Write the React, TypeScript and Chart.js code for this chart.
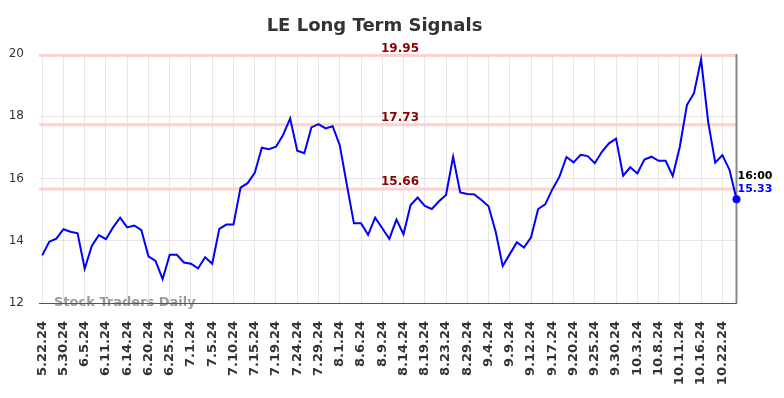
import React, { useEffect, useRef } from 'react';
import { Chart, registerables } from 'chart.js';

Chart.register(...registerables);

const TITLE = 'LE Long Term Signals';
const WATERMARK = 'Stock Traders Daily';
const LAST_TIME = '16:00';

const tickLabels = [
  '5.22.24', '5.30.24', '6.5.24', '6.11.24', '6.14.24', '6.20.24', '6.25.24', '7.1.24',
  '7.5.24', '7.10.24', '7.15.24', '7.19.24', '7.24.24', '7.29.24', '8.1.24', '8.6.24',
  '8.9.24', '8.14.24', '8.19.24', '8.23.24', '8.29.24', '9.4.24', '9.9.24', '9.12.24',
  '9.17.24', '9.20.24', '9.25.24', '9.30.24', '10.3.24', '10.8.24', '10.11.24', '10.16.24',
  '10.22.24',
];
const POINTS_PER_TICK = 3;

const values = [
  13.53, 13.97, 14.07, 14.37, 14.29, 14.24, 13.10, 13.83, 14.18, 14.05,
  14.43, 14.74, 14.43, 14.49, 14.34, 13.50, 13.35, 12.77, 13.55, 13.55,
  13.30, 13.26, 13.11, 13.47, 13.26, 14.38, 14.52, 14.52, 15.71, 15.85,
  16.18, 16.99, 16.94, 17.02, 17.40, 17.93, 16.89, 16.81, 17.64, 17.75,
  17.61, 17.68, 17.07, 15.80, 14.56, 14.56, 14.19, 14.74, 14.40, 14.06,
  14.68, 14.21, 15.15, 15.39, 15.12, 15.02, 15.27, 15.47, 16.70, 15.55,
  15.50, 15.49, 15.31, 15.11, 14.30, 13.19, 13.57, 13.95, 13.78, 14.11,
  15.02, 15.17, 15.65, 16.05, 16.69, 16.52, 16.76, 16.72, 16.49, 16.86,
  17.13, 17.28, 16.09, 16.36, 16.16, 16.61, 16.70, 16.57, 16.57, 16.08,
  17.02, 18.36, 18.74, 19.83, 17.82, 16.51, 16.75, 16.29, 15.33,
];

const signalLevels = [19.95, 17.73, 15.66];
const Y_MIN = 12;
const Y_MAX = 20;
const Y_STEP = 2;

const FONT = '"DejaVu Sans", sans-serif';

export default function App() {
  const ref = useRef<HTMLCanvasElement>(null);

  useEffect(() => {
    const canvas = ref.current;
    if (!canvas) return;
    const lastIdx = values.length - 1;

    const overlay = {
      id: 'overlay',
      beforeDraw(chart: any) {
        const { ctx, chartArea } = chart;
        ctx.save();
        ctx.font = `bold 18px ${FONT}`;
        ctx.fillStyle = '#333333';
        ctx.textAlign = 'center';
        ctx.textBaseline = 'middle';
        ctx.fillText(TITLE, 374.5, 26);
        ctx.font = `bold 13px ${FONT}`;
        ctx.fillStyle = '#9a9a9a';
        ctx.textAlign = 'left';
        ctx.textBaseline = 'alphabetic';
        ctx.fillText(WATERMARK, chartArea.left + 15, chartArea.bottom + 3);
        ctx.restore();
      },
      beforeDatasetsDraw(chart: any) {
        const { ctx, chartArea, scales } = chart;
        ctx.save();
        signalLevels.forEach((lvl) => {
          const py = scales.y.getPixelForValue(lvl);
          ctx.strokeStyle = '#ffd0d0';
          ctx.lineWidth = 3;
          ctx.beginPath();
          ctx.moveTo(chartArea.left, py);
          ctx.lineTo(chartArea.right, py);
          ctx.stroke();
          ctx.fillStyle = '#8b0000';
          ctx.font = `bold 12px ${FONT}`;
          ctx.textAlign = 'center';
          ctx.textBaseline = 'alphabetic';
          ctx.fillText(lvl.toFixed(2), 400, py - 4);
        });
        const px = scales.x.getPixelForValue(lastIdx);
        ctx.strokeStyle = '#888888';
        ctx.lineWidth = 2;
        ctx.beginPath();
        ctx.moveTo(px, chartArea.top);
        ctx.lineTo(px, chartArea.bottom);
        ctx.stroke();
        ctx.restore();
      },
      afterDatasetsDraw(chart: any) {
        const { ctx, scales } = chart;
        const px = scales.x.getPixelForValue(lastIdx);
        const py = scales.y.getPixelForValue(values[lastIdx]);
        ctx.save();
        ctx.font = `bold 11px ${FONT}`;
        ctx.textAlign = 'left';
        ctx.textBaseline = 'alphabetic';
        ctx.fillStyle = '#000000';
        ctx.fillText(LAST_TIME, px + 1, py - 20);
        ctx.fillStyle = '#0000ff';
        ctx.fillText(values[lastIdx].toFixed(2), px + 1, py - 7.5);
        ctx.restore();
      },
    };

    const chart = new Chart(canvas, {
      type: 'line',
      data: {
        datasets: [
          {
            data: values.map((v, i) => ({ x: i, y: v })),
            borderColor: '#0000ff',
            backgroundColor: '#0000ff',
            borderWidth: 2,
            tension: 0,
            fill: false,
            clip: false as any,
            pointRadius: (c: any) => (c.dataIndex === lastIdx ? 4 : 0),
            pointBackgroundColor: '#0000ff',
            pointBorderWidth: 0,
            pointHoverRadius: 0,
          },
        ],
      },
      options: {
        responsive: false,
        animation: false,
        devicePixelRatio: 1,
        layout: { padding: { top: 54, right: 47.5, bottom: 0, left: 0 } },
        plugins: {
          legend: { display: false },
          title: { display: false },
          tooltip: { enabled: false },
        },
        scales: {
          x: {
            type: 'linear',
            min: -0.45,
            max: lastIdx,
            afterBuildTicks: (s: any) => {
              s.ticks = tickLabels.map((_, i) => ({ value: i * POINTS_PER_TICK }));
            },
            afterFit: (s: any) => {
              s.height = 95;
            },
            grid: { color: '#e6e6e6', drawTicks: false, lineWidth: 1 },
            border: { display: true, color: '#555555', width: 1 },
            ticks: {
              autoSkip: false,
              minRotation: 90,
              maxRotation: 90,
              padding: 18,
              color: '#333333',
              font: { family: FONT, size: 13, weight: 'bold' },
              callback: (v: any) => tickLabels[Math.round(Number(v) / POINTS_PER_TICK)] ?? '',
            },
          },
          y: {
            min: Y_MIN,
            max: Y_MAX,
            afterFit: (s: any) => {
              s.width = 39;
            },
            grid: { color: '#e6e6e6', drawTicks: false, lineWidth: 1 },
            border: { display: false },
            ticks: {
              stepSize: Y_STEP,
              padding: 15,
              color: '#333333',
              font: { family: FONT, size: 12 },
            },
          },
        },
      },
      plugins: [overlay],
    } as any);

    return () => chart.destroy();
  }, []);

  return (
    <div style={{ position: 'absolute', left: 0, top: 0, width: 784, height: 398, background: '#ffffff' }}>
      <canvas ref={ref} width={784} height={398} style={{ display: 'block' }} />
    </div>
  );
}
